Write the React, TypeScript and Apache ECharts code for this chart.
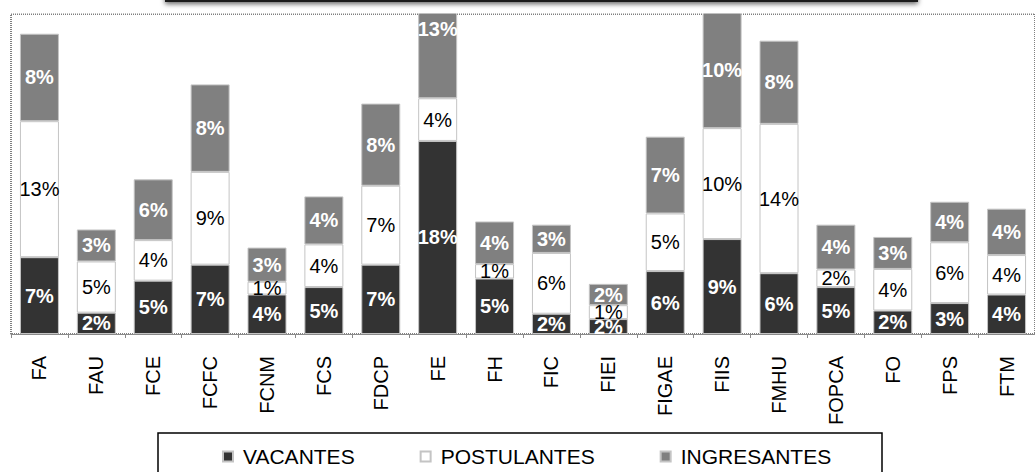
import React, { useEffect, useRef } from "react";
import * as echarts from "echarts";

const categories = ["FA", "FAU", "FCE", "FCFC", "FCNM", "FCS", "FDCP", "FE", "FH", "FIC", "FIEI", "FIGAE", "FIIS", "FMHU", "FOPCA", "FO", "FPS", "FTM"];

const vacantes = [7.2, 2.0, 5.0, 6.5, 3.7, 4.4, 6.5, 18.1, 5.2, 1.9, 1.4, 5.9, 8.9, 5.7, 4.4, 2.2, 2.9, 3.7];
const vacantesLabels = [7, 2, 5, 7, 4, 5, 7, 18, 5, 2, 2, 6, 9, 6, 5, 2, 3, 4];

const postulantes = [12.75, 4.8, 3.8, 8.7, 1.2, 4.0, 7.4, 4.0, 1.35, 5.7, 1.3, 5.4, 10.4, 14.0, 1.65, 3.9, 5.7, 3.7];
const postulantesLabels = [13, 5, 4, 9, 1, 4, 7, 4, 1, 6, 1, 5, 10, 14, 2, 4, 6, 4];

const ingresantes = [8.2, 3.0, 5.7, 8.2, 3.2, 4.5, 7.7, 13.0, 4.0, 2.65, 2.0, 7.2, 10.9, 7.8, 4.2, 3.0, 3.8, 4.35];
const ingresantesLabels = [8, 3, 6, 8, 3, 4, 8, 13, 4, 3, 2, 7, 10, 8, 4, 3, 4, 4];

const seriesNames = ["VACANTES", "POSTULANTES", "INGRESANTES"];

const FONT = "'Liberation Sans', Arial, sans-serif";

export default function App() {
  const ref = useRef<HTMLDivElement>(null);
  useEffect(() => {
    if (!ref.current) return;
    const chart = echarts.init(ref.current, null, { renderer: "svg" });
    const mk = (name: string, data: number[], labels: number[], color: string, labelColor: string, bold: boolean) => ({
      name,
      type: "bar",
      stack: "total",
      barWidth: 39,
      clip: false,
      data,
      itemStyle: { color, borderColor: "#c4c4c4", borderWidth: 1 },
      label: {
        show: true,
        position: "inside",
        formatter: (p: any) => labels[p.dataIndex] + "%",
        color: labelColor,
        fontFamily: FONT,
        fontSize: 20,
        fontWeight: bold ? "bold" : "normal",
        textBorderWidth: 0,
      },
    });
    chart.setOption({
      animation: false,
      grid: { left: 11, top: 14, width: 1034.5, height: 320, show: true, borderColor: "#000", borderWidth: 1, borderType: "dotted" } as any,
      xAxis: {
        type: "category",
        data: categories,
        axisLine: { lineStyle: { color: "#8a8a8a", width: 1 } },
        axisTick: { show: true, length: 4, interval: 0, lineStyle: { color: "#8a8a8a" } },
        axisLabel: { rotate: 90, interval: 0, margin: 22, fontSize: 20, fontFamily: FONT, color: "#000" },
      },
      yAxis: { type: "value", min: 0, max: 30, show: false, splitLine: { show: false } },
      legend: {
        data: seriesNames,
        left: 222,
        top: 446,
        padding: 0,
        icon: "rect",
        itemWidth: 10,
        itemHeight: 10,
        itemGap: 65,
        textStyle: { fontFamily: FONT, fontSize: 21, color: "#000", padding: [0, 0, 0, 5] },
      },
      graphic: [
        { type: "rect", z: 50, shape: { x: 0, y: -60, width: 1035, height: 73.5 }, style: { fill: "#fff" } },
        {
          type: "rect",
          z: 51,
          shape: { x: 166, y: -40, width: 751, height: 41 },
          style: { fill: "#fff", stroke: "#1a1a1a", lineWidth: 2, shadowBlur: 5, shadowOffsetY: 2, shadowColor: "rgba(0,0,0,0.6)" },
        },
        { type: "rect", z: 51, shape: { x: 158, y: 433, width: 724, height: 60 }, style: { fill: "none", stroke: "#000", lineWidth: 1.5 } },
      ],
      series: [
        mk(seriesNames[0], vacantes, vacantesLabels, "#333333", "#ffffff", true),
        mk(seriesNames[1], postulantes, postulantesLabels, "#ffffff", "#000000", false),
        mk(seriesNames[2], ingresantes, ingresantesLabels, "#808080", "#ffffff", true),
      ],
    });
    return () => chart.dispose();
  }, []);
  return <div ref={ref} style={{ position: "fixed", left: 0, top: 0, width: 1035, height: 472, background: "#fff" }} />;
}
